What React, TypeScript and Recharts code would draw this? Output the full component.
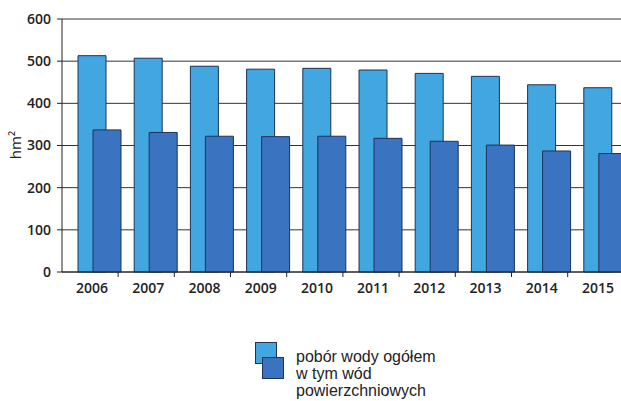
import { Bar, BarChart, CartesianGrid, Legend, XAxis, YAxis } from "recharts";

const years = ["2006", "2007", "2008", "2009", "2010", "2011", "2012", "2013", "2014", "2015"];
const totalWithdrawal = [513, 507, 488, 481, 483, 479, 471, 464, 444, 437];
const surfaceWater = [337, 331, 322, 321, 322, 317, 310, 301, 287, 281];
const yTicks = [0, 100, 200, 300, 400, 500, 600];
const seriesNames = ["pobór wody ogółem", "w tym wód powierzchniowych"];
const seriesColors = ["#42a6e0", "#3a73c0"];

const data = years.map((year, i) => ({ year, total: totalWithdrawal[i], surface: surfaceWater[i] }));

const tickFont = { fontFamily: "'Open Sans', sans-serif", fontWeight: 600, fontSize: 14, fill: "#222" };
const edge = "#1f3358";

// label sits left of band centre, tick mark on the band boundary (Excel style)
function YearTick({ x, y, payload }: any) {
  return (
    <g>
      <line x1={x + 19} x2={x + 19} y1={y} y2={y + 5} stroke="#222" />
      <text x={x - 7} y={y + 21} textAnchor="middle" {...tickFont}>
        {payload.value}
      </text>
    </g>
  );
}

function UnitLabel() {
  return (
    <text
      x={15}
      y={145}
      transform="rotate(-90 15 145)"
      textAnchor="middle"
      dominantBaseline="central"
      style={{ fontFamily: "'Open Sans', sans-serif", fontSize: 15, fill: "#222" }}
    >
      hm²
    </text>
  );
}

function StackedLegend() {
  const text = { fontFamily: "'Liberation Sans', Arial, sans-serif", fontSize: 16, lineHeight: "17px", color: "#222" };
  return (
    <div style={{ position: "relative", width: 240, height: 60 }}>
      <div style={{ position: "absolute", left: 0, top: 0, width: 20, height: 20, background: seriesColors[0], border: `1px solid ${edge}` }} />
      <div style={{ position: "absolute", left: 7, top: 15, width: 20, height: 20, background: seriesColors[1], border: `1px solid ${edge}` }} />
      <div style={{ position: "absolute", left: 41, top: 6, ...text }}>
        <div style={{ whiteSpace: "nowrap" }}>{seriesNames[0]}</div>
        <div style={{ width: 150 }}>{seriesNames[1]}</div>
      </div>
    </div>
  );
}

export default function App() {
  return (
    <div style={{ position: "absolute", left: 0, top: 0, width: 621, height: 401, overflow: "hidden", background: "#fff" }}>
      <BarChart width={640} height={401} data={data} margin={{ top: 19, right: 7, bottom: 99, left: 0 }} barSize={28} barGap={-13}>
        <CartesianGrid vertical={false} stroke="#333" />
        <XAxis
          dataKey="year"
          height={30}
          padding={{ left: 9, right: 0 }}
          tickSize={0}
          tickMargin={0}
          tick={<YearTick />}
          axisLine={{ stroke: "#222" }}
          interval={0}
        />
        <YAxis
          width={62}
          domain={[0, 600]}
          ticks={yTicks}
          tickSize={5}
          tickMargin={6}
          tick={tickFont}
          axisLine={{ stroke: "#222" }}
          tickLine={{ stroke: "#222" }}
          label={<UnitLabel />}
        />
        <Legend
          layout="horizontal"
          verticalAlign="middle"
          align="center"
          wrapperStyle={{ top: 342, left: 255, width: 240, height: 60 }}
          content={<StackedLegend />}
        />
        <Bar dataKey="total" name={seriesNames[0]} fill={seriesColors[0]} stroke={edge} strokeWidth={1} isAnimationActive={false} />
        <Bar dataKey="surface" name={seriesNames[1]} fill={seriesColors[1]} stroke={edge} strokeWidth={1} isAnimationActive={false} />
      </BarChart>
    </div>
  );
}
